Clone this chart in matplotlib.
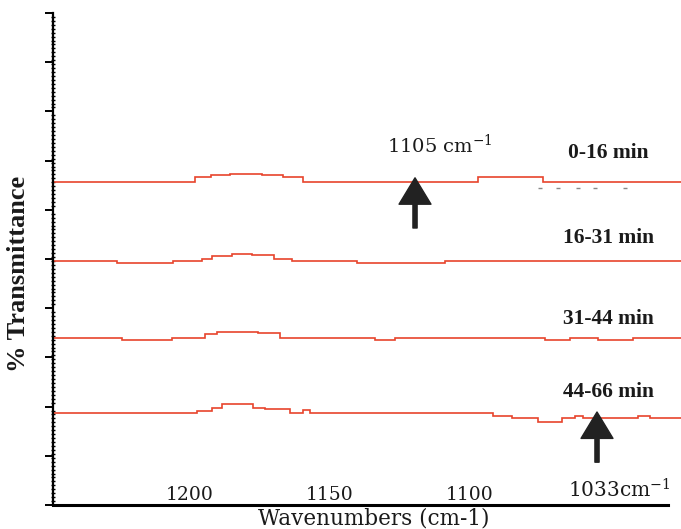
import numpy as np
import matplotlib
matplotlib.use("Agg")
import matplotlib.pyplot as plt

# step spectra: wavenumber where each level starts, and the %T level
wn_0_16 = [1249, 1198.2, 1192.3, 1185.7, 1174.4, 1166.7, 1159.5, 1097.0, 1074.0, 1024]
t_0_16 = [65.7, 66.6, 67.1, 67.3, 67.1, 66.6, 65.7, 66.7, 65.7, 65.7]

wn_16_31 = [1249, 1226.2, 1206.0, 1195.8, 1192.0, 1185.1, 1178.0, 1170.0, 1163.7,
            1140.5, 1108.9, 1024]
t_16_31 = [49.6, 49.2, 49.6, 49.9, 50.7, 51.0, 50.8, 49.9, 49.5, 49.2, 49.6, 49.6]

wn_31_44 = [1249, 1224.4, 1206.5, 1194.6, 1190.5, 1175.6, 1167.9, 1133.9, 1126.8,
            1073.2, 1064.3, 1054.3, 1041.8, 1024]
t_31_44 = [34.0, 33.6, 34.0, 34.8, 35.2, 34.9, 34.0, 33.6, 34.0, 33.6, 34.0, 33.6,
           34.0, 34.0]

wn_44_66 = [1249, 1197.6, 1192.25, 1188.7, 1177.4, 1173.2, 1164.3, 1159.6, 1157.1,
            1091.7, 1085.1, 1075.7, 1067.25, 1062.5, 1059.6, 1040.0, 1035.7, 1024]
t_44_66 = [18.8, 19.2, 19.65, 20.5, 19.8, 19.45, 18.8, 19.25, 18.8, 18.15, 17.6,
           16.9, 17.6, 18.15, 17.6, 18.15, 17.6, 17.6]

# faint dotted marks under the first spectrum
dots_wn = [1075.0, 1068.6, 1061.4, 1055.4, 1044.6]
dots_t = [64.4, 64.4, 64.4, 64.4, 64.4]

spectra = [(wn_0_16, t_0_16, "0-16 min", 71.5),
           (wn_16_31, t_16_31, "16-31 min", 54.3),
           (wn_31_44, t_31_44, "31-44 min", 37.8),
           (wn_44_66, t_44_66, "44-66 min", 23.0)]

xticks = [1200, 1150, 1100]

fig = plt.figure(figsize=(6.81, 5.29), dpi=100)
ax = fig.add_axes([53 / 681, 24 / 529, 1 - 53 / 681, 492 / 529])

red = "#e8442c"
ink = "#1a1a1a"
for wn, t, label, ly in spectra:
    ax.step(wn, t, where="post", color=red, lw=1.2, solid_joinstyle="miter")
    ax.text(1050.5, ly, label, ha="center", va="center", fontsize=15.5,
            fontweight="bold", family="Liberation Serif", color=ink)

ax.plot(dots_wn, dots_t, ls="none", marker="_", ms=3, mew=1, color="#888888")

# band markers
arrow = dict(facecolor="#222222", edgecolor="#222222", width=3, headwidth=23,
             headlength=19)
ax.annotate("", xy=(1119.6, 66.5), xytext=(1119.6, 56.3), arrowprops=arrow)
ax.annotate("", xy=(1054.6, 18.9), xytext=(1054.6, 8.7), arrowprops=arrow)
ax.text(1110.7, 73.2, "1105 cm$^{\\mathregular{-1}}$", ha="center", va="center",
        fontsize=14, family="DejaVu Serif", color=ink)
ax.text(1046.5, 3.0, "1033cm$^{\\mathregular{-1}}$", ha="center", va="center",
        fontsize=14.5, family="DejaVu Serif", color=ink)

ax.set_xlim(1248.9, 1024.6)
ax.set_ylim(0, 100)

for s in ["top", "right"]:
    ax.spines[s].set_visible(False)
ax.spines["left"].set_linewidth(1.6)
ax.spines["bottom"].set_linewidth(2.2)
ax.spines["bottom"].set_bounds(1248.9, 1029.3)

ax.set_xticks(xticks)
ax.set_xticklabels([str(v) for v in xticks], family="DejaVu Serif", fontsize=13.5,
                   color=ink)
ax.tick_params(axis="x", length=0, pad=-14)

ax.set_yticks(np.arange(0, 101, 10))
ax.set_yticks(np.arange(0, 100.1, 0.8), minor=True)
ax.set_yticklabels([])
ax.tick_params(axis="y", which="major", direction="out", length=6, width=1.4)
ax.tick_params(axis="y", which="minor", direction="inout", length=3, width=1.0)

# axis titles placed in figure coordinates so they sit close to the spines
fig.text(374 / 681, 1 - 518 / 529, "Wavenumbers (cm-1)", ha="center",
         va="center", family="DejaVu Serif", fontsize=15.5, color=ink)
fig.text(19 / 681, 1 - 274 / 529, "% Transmittance", ha="center", va="center",
         rotation=90, family="Liberation Serif", fontweight="bold", fontsize=19,
         color=ink)

fig.savefig("out.png", dpi=100)
